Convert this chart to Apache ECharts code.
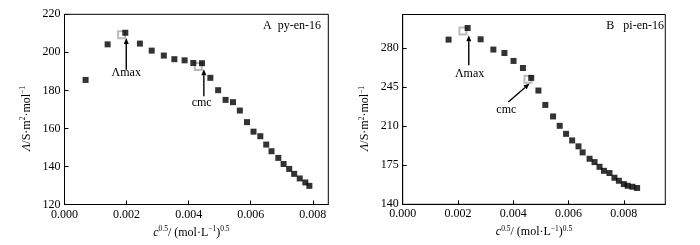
<!DOCTYPE html>
<html><head><meta charset="utf-8">
<script src="https://cdn.jsdelivr.net/npm/echarts@6/dist/echarts.min.js"></script>
<style>html,body{margin:0;padding:0;background:#fff}#c{width:700px;height:245px}</style>
</head><body><div id="c"></div>
<script>
// Panel A: py-en-16
const xA = [0.00068,0.00139,0.00196,0.00243,0.00281,0.0032,0.00354,0.00387,0.00415,0.00443,0.0047,0.00495,0.00519,0.00543,0.00565,0.00588,0.00609,0.00631,0.0065,0.00667,0.00689,0.00706,0.00724,0.0074,0.00758,0.00776,0.00789];
const yA = [185.5,204.2,210.3,204.6,200.9,198.3,196.4,195.8,194.4,194.3,186.6,180.1,175.0,173.8,169.4,163.3,158.3,155.9,151.5,148.0,144.5,141.3,138.7,136.1,133.7,131.6,129.8];
const openA = [[0.00184,209.3],[0.00431,192.6]];
// Panel B: pi-en-16
const xB = [0.00166,0.00235,0.00282,0.00328,0.00368,0.00401,0.00435,0.00465,0.00491,0.00516,0.00544,0.00568,0.00591,0.00613,0.00636,0.00651,0.00676,0.00694,0.00712,0.00728,0.00748,0.00766,0.00782,0.008,0.00814,0.00831,0.00848];
const yB = [287.5,297.9,287.8,278.6,275.5,268.4,262.1,253.2,241.9,229.0,218.7,210.3,203.1,197.2,191.9,186.5,180.8,177.8,173.6,170.0,168.0,163.8,161.1,158.1,156.6,155.7,154.6];
const openB = [[0.00218,295.2],[0.00453,252.0]];
const xTicks = ['0.000','0.002','0.004','0.006','0.008'];
const titleA = 'A  py-en-16', titleB = 'B   pi-en-16';
// annotations (data coords): [x0, y0, x1, y1] arrow from (x0,y0) to head at (x1,y1)
const arrowsA = [[0.00199,190.9,0.00199,207.6],[0.00449,176.9,0.00449,191.1]];
const labelsA = [['Λmax',0.00199,189.0],['cmc',0.00442,173.5]];
const arrowsB = [[0.00239,264.5,0.00239,291.5],[0.00382,231.7,0.00459,248.2]];
const labelsB = [['Λmax',0.00242,257.1],['cmc',0.00375,224.9]];

const FONT = '"Liberation Serif","Times New Roman",serif';
const sup = {fontSize: 7.5, fontFamily: FONT, color:'#000', padding:[0,0,6,0]};
const rich = {
  i:{fontStyle:'italic',fontSize:12,fontFamily:FONT,color:'#000'},
  n:{fontSize:12,fontFamily:FONT,color:'#000'},
  s:sup
};
const yName = '{i|Λ}{n|/S·m}{s|2}{n|·mol}{s|−1}';
const xName = '{i|c}{s|0.5}{n|/ (mol·L}{s|−1}{n|)}{s|0.5}';

function xAxis(gi, max){
  return {type:'value', gridIndex:gi, min:0, max:max, interval:0.002,
    axisLine:{show:true,onZero:false,lineStyle:{color:'#000',width:1}},
    axisTick:{show:true,inside:true,length:4,lineStyle:{color:'#000'}},
    splitLine:{show:false},
    axisLabel:{showMaxLabel:false,color:'#000',fontFamily:FONT,fontSize:12,margin:4,
      formatter:v=>{const i=Math.round(v/0.002);return xTicks[i]!==undefined?xTicks[i]:'';}},
    name:xName, nameLocation:'middle', nameGap:13,
    nameTextStyle:{rich:rich, padding:gi===0?[0,10,0,0]:[0,0,0,0]}};
}
function yAxis(gi,min,max,interval,showMax){
  return {type:'value', gridIndex:gi, min:min, max:max, interval:interval,
    axisLine:{show:true,onZero:false,lineStyle:{color:'#000',width:1}},
    axisTick:{show:true,inside:true,length:4,lineStyle:{color:'#000'}},
    splitLine:{show:false},
    axisLabel:{showMaxLabel:showMax,color:'#000',fontFamily:FONT,fontSize:12,margin:4},
    name:yName, nameLocation:'middle', nameGap:31,
    nameTextStyle:{rich:rich, padding:[0,18,0,0]}};
}
const chart = echarts.init(document.getElementById('c'),null,{renderer:'canvas'});
function arrowGraphics(){
  const out=[];
  const add=(gi,a)=>{
    const p0=chart.convertToPixel({gridIndex:gi},[a[0],a[1]]);
    const p1=chart.convertToPixel({gridIndex:gi},[a[2],a[3]]);
    const dx=p1[0]-p0[0], dy=p1[1]-p0[1], L=Math.hypot(dx,dy);
    const ux=dx/L, uy=dy/L, hl=6, hw=2.5;
    const bx=p1[0]-ux*hl, by=p1[1]-uy*hl;
    out.push({type:'line', z:100, silent:true, shape:{x1:p0[0],y1:p0[1],x2:bx,y2:by}, style:{stroke:'#000',lineWidth:1.4}});
    out.push({type:'polygon', z:100, silent:true, shape:{points:[[p1[0],p1[1]],[bx-uy*hw,by+ux*hw],[bx+uy*hw,by-ux*hw]]}, style:{fill:'#000'}});
  };
  arrowsA.forEach(a=>add(0,a));
  arrowsB.forEach(a=>add(1,a));
  return out;
}
function markPoints(labels){
  return {silent:true, symbol:'circle', symbolSize:1, itemStyle:{color:'rgba(0,0,0,0)'}, animation:false,
    label:{show:true,position:'inside',color:'#000',fontFamily:FONT,fontSize:12,formatter:p=>p.name},
    data: labels.map(l=>({name:l[0],coord:[l[1],l[2]]}))};
}
chart.setOption({
  animation:false, backgroundColor:'#fff',
  textStyle:{fontFamily:FONT},
  title:[
    {text:titleA, right:379, top:20, padding:0, textStyle:{fontFamily:FONT,fontSize:12,fontWeight:'normal',color:'#000'}},
    {text:titleB, right:36, top:20, padding:0, textStyle:{fontFamily:FONT,fontSize:12,fontWeight:'normal',color:'#000'}}
  ],
  grid:[
    {left:64.5, top:14.3, right:371.7, bottom:40.5, show:true, borderColor:'#000', borderWidth:1, containLabel:false},
    {left:402.7, top:14.5, right:34.7, bottom:40.7, show:true, borderColor:'#000', borderWidth:1, containLabel:false}
  ],
  xAxis:[xAxis(0,0.0085), xAxis(1,0.0095)],
  yAxis:[yAxis(0,120,220,20,true), yAxis(1,140,310,35,false)],
  series:[
    {type:'scatter', xAxisIndex:0, yAxisIndex:0, symbol:'emptyRect', symbolSize:7,
      itemStyle:{color:'#aaa',borderColor:'#aaa',borderWidth:0.8}, data:openA, z:1},
    {type:'scatter', xAxisIndex:0, yAxisIndex:0, symbol:'rect', symbolSize:6,
      itemStyle:{color:'#000'}, data:xA.map((x,i)=>[x,yA[i]]), z:3,
      markPoint:markPoints(labelsA)},
    {type:'scatter', xAxisIndex:1, yAxisIndex:1, symbol:'emptyRect', symbolSize:7,
      itemStyle:{color:'#aaa',borderColor:'#aaa',borderWidth:0.8}, data:openB, z:1},
    {type:'scatter', xAxisIndex:1, yAxisIndex:1, symbol:'rect', symbolSize:6,
      itemStyle:{color:'#000'}, data:xB.map((x,i)=>[x,yB[i]]), z:3,
      markPoint:markPoints(labelsB)}
  ]
});
chart.setOption({graphic:arrowGraphics()});
</script></body></html>
